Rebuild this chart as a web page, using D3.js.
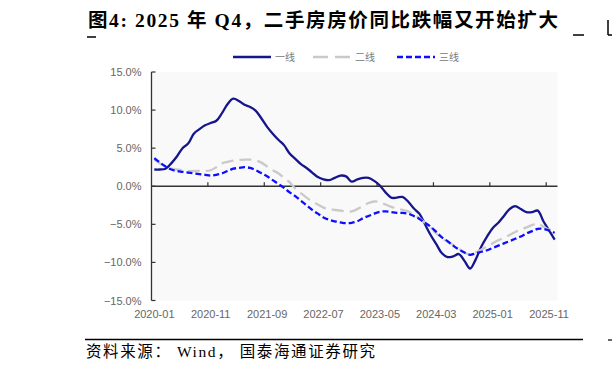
<!DOCTYPE html>
<html>
<head>
<meta charset="utf-8">
<script src="https://cdn.jsdelivr.net/npm/d3@7"></script>
<style>
  body { margin:0; background:#fff; }
  svg { display:block; }
</style>
</head>
<body>
<div class="chart"></div>
<script>
// monthly data, 2020-01 .. 2025-12 (YoY %)
var startYear = 2020;
var tier1 = [2.2,2.2,2.3,3.0,3.9,5.0,5.6,6.9,7.5,8.0,8.3,8.6,
             9.6,10.8,11.5,11.2,10.7,10.4,9.9,8.9,7.8,6.9,6.1,5.4,
             4.3,3.6,2.9,2.4,1.8,1.2,0.9,0.8,1.1,1.4,1.3,0.6,
             0.9,1.1,1.1,0.7,0.1,-0.8,-1.5,-1.5,-1.4,-2.0,-2.9,-3.6,
             -5.0,-6.4,-7.6,-8.8,-9.3,-9.2,-8.9,-9.8,-10.8,-9.6,-7.9,-6.6,
             -5.5,-4.8,-3.9,-3.0,-2.6,-3.0,-3.4,-3.4,-3.2,-4.6,-5.8,-7.0];
var tier2 = [3.5,3.0,2.6,2.3,2.2,2.1,2.0,2.0,2.0,2.0,2.1,2.5,
             3.0,3.2,3.35,3.45,3.5,3.5,3.4,3.1,2.6,2.1,1.7,1.1,
             0.5,-0.3,-0.9,-1.5,-2.0,-2.4,-2.8,-3.0,-3.1,-3.2,-3.3,-3.3,
             -3.0,-2.6,-2.2,-2.0,-2.1,-2.4,-2.7,-2.9,-3.1,-3.3,-3.7,-4.2,
             -4.8,-5.4,-6.2,-6.8,-7.3,-7.7,-8.2,-8.7,-9.0,-8.7,-8.3,-7.9,
             -7.5,-7.1,-6.8,-6.4,-6.0,-5.7,-5.4,-5.1,-4.9,-5.3,-5.7,-5.9];
var tier3 = [3.7,3.1,2.6,2.2,2.0,1.9,1.8,1.7,1.6,1.5,1.4,1.5,
             1.7,2.0,2.3,2.4,2.5,2.4,2.1,1.7,1.3,0.8,0.3,-0.2,
             -0.8,-1.3,-1.9,-2.5,-3.1,-3.6,-4.1,-4.4,-4.6,-4.75,-4.85,-4.8,
             -4.6,-4.2,-3.9,-3.6,-3.35,-3.3,-3.4,-3.5,-3.5,-3.6,-3.9,-4.3,
             -4.8,-5.3,-6.0,-6.7,-7.2,-7.8,-8.3,-8.7,-9.0,-8.8,-8.6,-8.4,
             -8.1,-7.8,-7.5,-7.2,-6.9,-6.6,-6.2,-5.9,-5.6,-5.6,-5.8,-6.1];
var seriesNames = ["一线","二线","三线"];
var yTicks = [15,10,5,0,-5,-10,-15];
var xTickLabels = ["2020-01","2020-11","2021-09","2022-07","2023-05","2024-03","2025-01","2025-11"];

var months = tier1.map(function(d,i){
  var yr = startYear + Math.floor(i/12), m = i%12 + 1;
  return yr + "-" + (m<10 ? "0"+m : m);
});

var W = 612, H = 371;
var svg = d3.select(".chart").append("svg")
  .attr("width", W).attr("height", H);

var pLeft = 151.5, pRight = 557.5, pTop = 72, pBottom = 300.5;

var x = d3.scaleBand()
  .domain(months)
  .range([pLeft, pRight])
  .paddingInner(0).paddingOuter(0);
var y = d3.scaleLinear()
  .domain([-15, 15])
  .range([pBottom, pTop]);

function cx(m){ return x(m) + x.bandwidth()/2; }

// title
svg.append("text")
  .attr("x", 88).attr("y", 27)
  .attr("font-family", "'Liberation Serif','Noto Sans CJK SC',serif")
  .attr("font-weight", "bold")
  .attr("font-size", 19.5)
  .attr("fill", "#000")
  .attr("textLength", 470)
  .attr("lengthAdjust", "spacing")
  .text("图4:  2025 年 Q4，二手房房价同比跌幅又开始扩大");

// little page marks
svg.append("line").attr("x1", 87).attr("x2", 96).attr("y1", 37).attr("y2", 37)
  .attr("stroke", "#000").attr("stroke-width", 1.5);
svg.append("line").attr("x1", 573).attr("x2", 584).attr("y1", 35).attr("y2", 35)
  .attr("stroke", "#000").attr("stroke-width", 1.5);
svg.append("line").attr("x1", 608).attr("x2", 608).attr("y1", 20).attr("y2", 35)
  .attr("stroke", "#000").attr("stroke-width", 1.5);
svg.append("line").attr("x1", 608).attr("x2", 612).attr("y1", 35).attr("y2", 35)
  .attr("stroke", "#000").attr("stroke-width", 1.5);
svg.append("line").attr("x1", 608).attr("x2", 612).attr("y1", 340).attr("y2", 340)
  .attr("stroke", "#000").attr("stroke-width", 1.2);

// plot area
svg.append("rect")
  .attr("x", pLeft).attr("y", pTop)
  .attr("width", pRight-pLeft).attr("height", pBottom-pTop)
  .attr("fill", "#f9f9f9");

// y axis
var yAxis = svg.append("g").attr("transform", "translate(" + pLeft + ",0)");
yAxis.append("line")
  .attr("x1", 0).attr("x2", 0).attr("y1", y(15)).attr("y2", y(-15))
  .attr("stroke", "#333").attr("stroke-width", 1.3);
yAxis.selectAll(".yt").data(yTicks).enter().append("line")
  .attr("x1", 0).attr("x2", 4)
  .attr("y1", function(d){return y(d);}).attr("y2", function(d){return y(d);})
  .attr("stroke", "#333").attr("stroke-width", 1.2);
yAxis.selectAll(".yl").data(yTicks).enter().append("text")
  .attr("x", -10).attr("y", function(d){return y(d)+4;})
  .attr("text-anchor", "end")
  .attr("font-family", "'Liberation Sans',Arial,sans-serif")
  .attr("font-size", 11)
  .attr("fill", "#666")
  .text(function(d){return d3.format(".1f")(d) + "%";});

// x axis at zero
var xAxis = svg.append("g");
xAxis.append("line")
  .attr("x1", pLeft).attr("x2", pRight).attr("y1", y(0)).attr("y2", y(0))
  .attr("stroke", "#333").attr("stroke-width", 1.3);
xAxis.selectAll(".xt").data(xTickLabels.slice(1)).enter().append("line")
  .attr("x1", function(d){return x(d);}).attr("x2", function(d){return x(d);})
  .attr("y1", y(0)).attr("y2", y(0)-4)
  .attr("stroke", "#333").attr("stroke-width", 1.2);
xAxis.selectAll(".xl").data(xTickLabels).enter().append("text")
  .attr("x", function(d){return cx(d);}).attr("y", 318)
  .attr("text-anchor", "middle")
  .attr("font-family", "'Liberation Sans',Arial,sans-serif")
  .attr("font-size", 11)
  .attr("fill", "#666")
  .text(function(d){return d;});

// lines
var styles = [
  {color:"#16168c", dash:null},
  {color:"#c9c9c9", dash:"12,6"},
  {color:"#0d0dff", dash:"6,3"}
];
var all = [tier1, tier2, tier3];

var line = d3.line()
  .x(function(d,i){return cx(months[i]);})
  .y(function(d){return y(d);})
  .curve(d3.curveCatmullRom.alpha(0.5));

svg.selectAll(".series").data(all).enter().append("path")
  .attr("class", "series")
  .attr("d", line)
  .attr("fill", "none")
  .attr("stroke", function(d,i){return styles[i].color;})
  .attr("stroke-width", 2.3)
  .attr("stroke-dasharray", function(d,i){return styles[i].dash;});

// legend
var legX = [233, 313, 397];
var legend = svg.selectAll(".leg").data(seriesNames).enter().append("g")
  .attr("transform", function(d,i){return "translate(" + legX[i] + ",57)";});
legend.append("line")
  .attr("x1", 0).attr("x2", 38).attr("y1", 0).attr("y2", 0)
  .attr("stroke", function(d,i){return styles[i].color;})
  .attr("stroke-width", 2.3)
  .attr("stroke-dasharray", function(d,i){return i==1 ? "15,7" : styles[i].dash;});
legend.append("text")
  .attr("x", 42).attr("y", 4)
  .attr("font-family", "'Noto Sans CJK SC',sans-serif")
  .attr("font-size", 10)
  .attr("fill", "#777")
  .text(function(d){return d;});

// bottom rule and source
svg.append("line").attr("x1", 85).attr("x2", 583).attr("y1", 339.5).attr("y2", 339.5)
  .attr("stroke", "#000").attr("stroke-width", 1.5);
svg.append("text")
  .attr("x", 86).attr("y", 357)
  .attr("font-family", "'Liberation Serif','Noto Sans CJK SC',serif")
  .attr("font-size", 15.5)
  .attr("fill", "#000")
  .attr("textLength", 289)
  .attr("lengthAdjust", "spacing")
  .text("资料来源： Wind， 国泰海通证券研究");
</script>
</body>
</html>
